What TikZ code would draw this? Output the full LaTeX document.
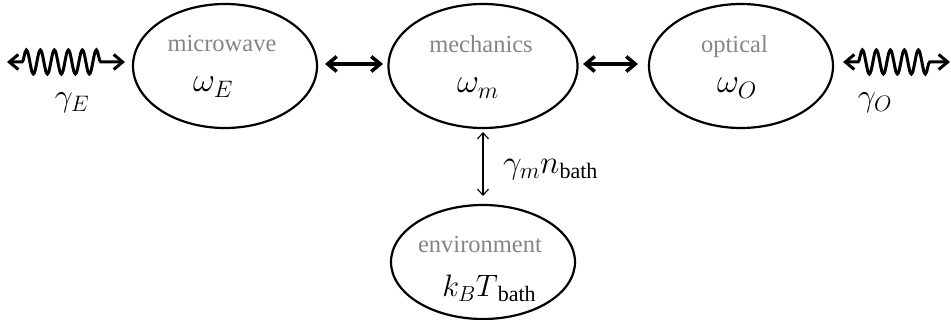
\RequirePackage{fix-cm}
\documentclass[tikz,border=0pt]{standalone}
\usepackage{fontspec}
\setmainfont{Liberation Serif}
\newfontfamily\bathfont{Liberation Serif}
\usetikzlibrary{shapes.geometric,arrows.meta,decorations.pathmorphing}
\newcommand\symsz[1]{\fontsize{#1}{#1}\selectfont}
\newcommand\bathsub{\raisebox{-5pt}{\bathfont\upshape\fontsize{22}{22}\selectfont bath}}
\begin{document}
\begin{tikzpicture}[x=1pt,y=-1pt,
  osc/.style={ellipse,draw,line width=2.2pt,inner sep=0pt},
  lbl/.style={anchor=base,text=black!48,font=\fontsize{24.5}{24.5}\selectfont,inner sep=0pt},
  sym/.style={anchor=base,inner sep=0pt},
  couple/.style={line width=3.5pt,{Straight Barb[length=9pt,width=15pt]}-{Straight Barb[length=9pt,width=15pt]}},
  wavy/.style={line width=3pt,{Straight Barb[length=9pt,width=15pt]}-{Straight Barb[length=9pt,width=15pt]},
    decorate,decoration={snake,amplitude=12pt,segment length=14pt,pre length=15pt,post length=20pt}},
  thinarr/.style={line width=1.1pt,{Straight Barb[length=6pt,width=11pt]}-{Straight Barb[length=6pt,width=11pt]}}]
\useasboundingbox (0,0) rectangle (951,320);
% oscillators
\node[osc,minimum width=184pt,minimum height=124pt] (E) at (225,66) {};
\node[osc,minimum width=189pt,minimum height=124pt] (M) at (483,66) {};
\node[osc,minimum width=184pt,minimum height=124pt] (O) at (741,66) {};
\node[osc,minimum width=184pt,minimum height=114pt] (B) at (483,262) {};
% labels
\node[lbl] (tE) at (222,52) {microwave};
\node[sym] (wE) at (213,92) {\symsz{34}$\omega_E$};
\node[lbl] (tM) at (481,53) {mechanics};
\node[sym] (wM) at (478,93) {\symsz{34}$\omega_m$};
\node[lbl] (tO) at (734.5,53) {optical};
\node[sym] (wO) at (737,93) {\symsz{34}$\omega_O$};
\node[lbl] (tB) at (480,253) {environment};
\node[sym] (kT) at (489,297) {\symsz{31}$k_B T$\bathsub};
\node[sym] (gE) at (72,107) {\symsz{32}$\gamma_E$};
\node[sym] (gO) at (875,107) {\symsz{32}$\gamma_O$};
\node[sym,anchor=base west] (gM) at (503,174) {\symsz{33}$\gamma_m n$\bathsub};
% connector ends
\coordinate (wl1) at (7,62);
\coordinate (wl2) at (125,62);
\coordinate (wr1) at (843,62);
\coordinate (wr2) at (950,62);
\coordinate (c1) at (325,64);
\coordinate (c2) at (383,64);
\coordinate (c3) at (583,64);
\coordinate (c4) at (638,64);
\coordinate (v1) at (483,132);
\coordinate (v2) at (483,196);
\draw[wavy] (wl1) -- (wl2);
\draw[wavy] (wr1) -- (wr2);
\draw[couple] (c1) -- (c2);
\draw[couple] (c3) -- (c4);
\draw[thinarr] (v1) -- (v2);
\end{tikzpicture}
\end{document}
